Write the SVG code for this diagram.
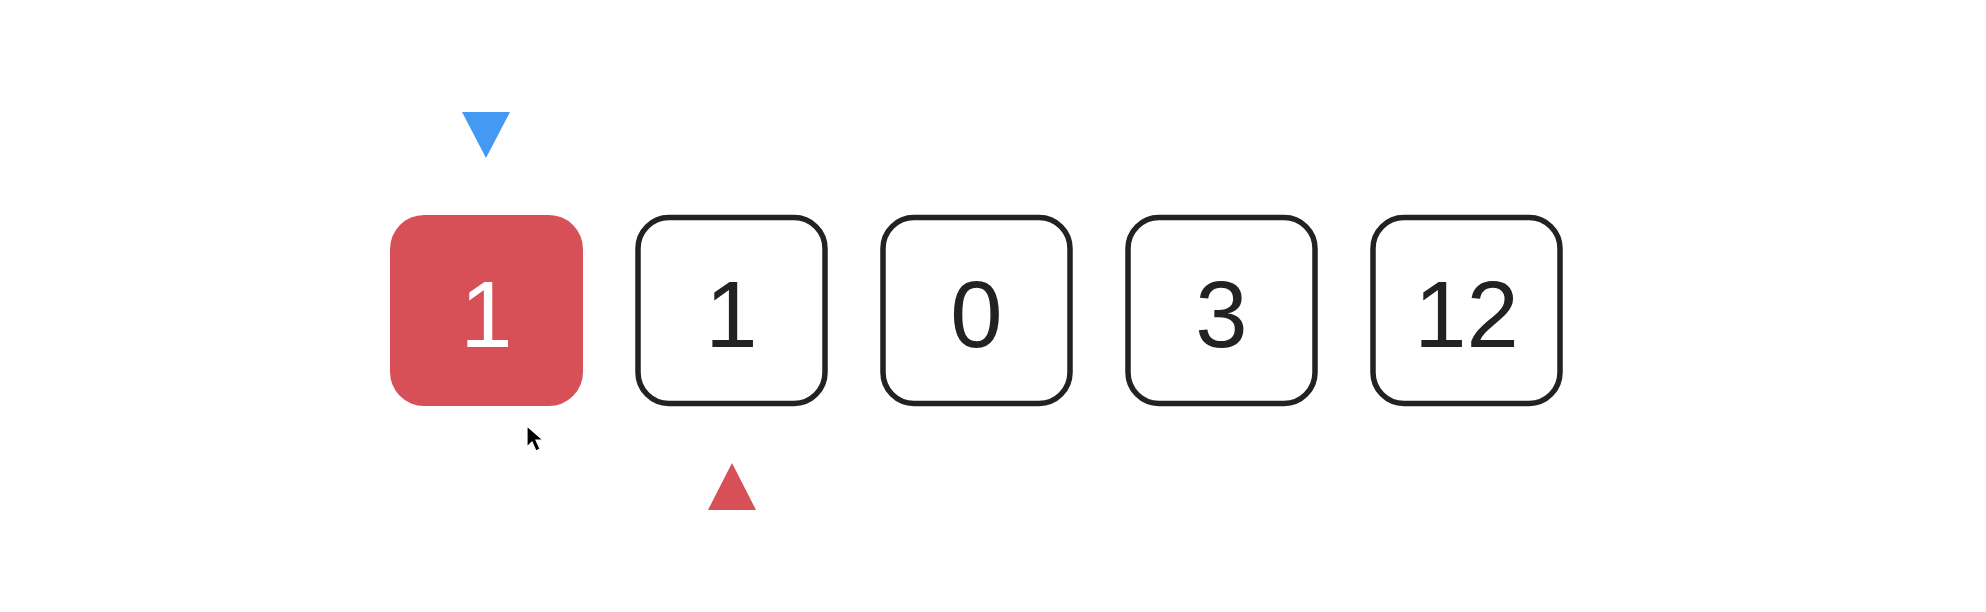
<svg xmlns="http://www.w3.org/2000/svg" width="1986" height="612" viewBox="0 0 1986 612">
<style>
.box{fill:#ffffff;stroke:#222222;stroke-width:5.5}
.num{font-family:"Liberation Sans",Arial,sans-serif;font-size:94px;fill:#222222;text-anchor:middle}
</style>
<rect width="1986" height="612" fill="#ffffff"/>
<g id="pointer-top"><polygon points="462,112 510,112 486,158" fill="#4499F2"/></g>
<g id="node-0"><rect x="390" y="215" width="193" height="191" rx="34" fill="#D75058"/><text class="num" x="486.5" y="347" style="fill:#ffffff">1</text></g>
<g id="node-1"><rect class="box" x="638" y="217.5" width="187" height="186" rx="31"/><text class="num" x="731.5" y="347">1</text></g>
<g id="node-2"><rect class="box" x="883" y="217.5" width="187" height="186" rx="31"/><text class="num" x="976.5" y="347">0</text></g>
<g id="node-3"><rect class="box" x="1128" y="217.5" width="187" height="186" rx="31"/><text class="num" x="1221.5" y="347">3</text></g>
<g id="node-4"><rect class="box" x="1373" y="217.5" width="187" height="186" rx="31"/><text class="num" x="1466.5" y="347">12</text></g>
<g id="pointer-bottom"><polygon points="732,463 708,510 756,510" fill="#D75058"/></g>
<g id="connectors"></g>
<g id="cursor"><polygon points="527,426 527,447 532,442 536,451 540,449 536,440 543,440" fill="#000000" stroke="#ffffff" stroke-width="1.2"/></g>
</svg>
